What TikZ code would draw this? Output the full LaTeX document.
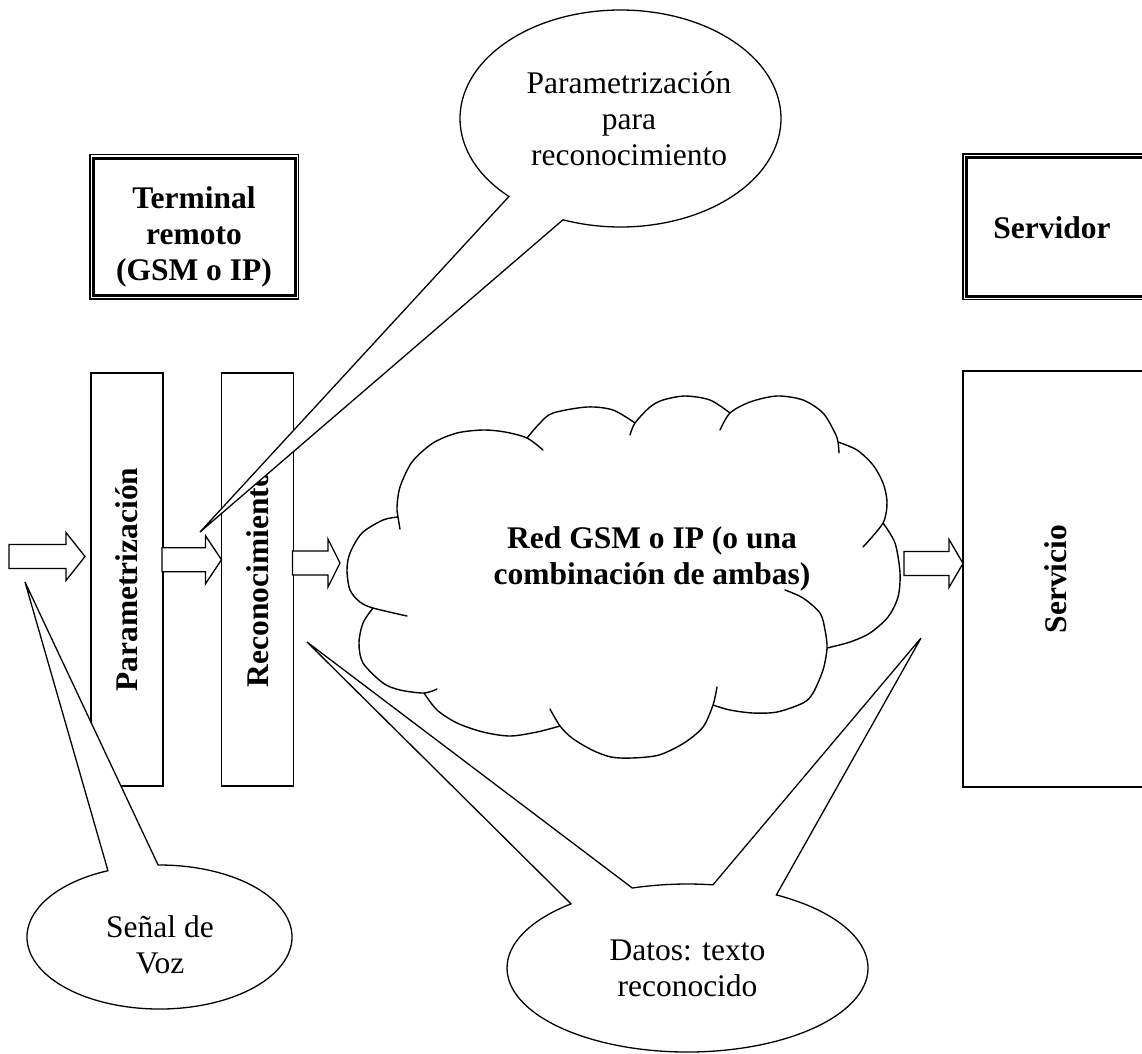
\documentclass[tikz,border=0pt]{standalone}
\usepackage{fontspec}
\setmainfont{Liberation Serif}
\usetikzlibrary{calc}

% hollow block arrow along a horizontal centre line: #1 start, #2 tip, #3 head length
\newcommand{\blockarrow}[3]{%
  \draw[barrow] ($(#1)+(0,-12)$) -- ($(#2)+(-#3,-12)$) -- ($(#2)+(-#3,-24)$)
    -- (#2) -- ($(#2)+(-#3,24)$) -- ($(#2)+(-#3,12)$) -- ($(#1)+(0,12)$) -- cycle;}

\begin{document}
\begin{tikzpicture}[x=1pt, y=-1pt,
  every node/.style={inner sep=0pt, outer sep=0pt},
  txt/.style={font=\fontsize{31.5}{36}\selectfont, align=center},
  btxt/.style={font=\fontsize{31.5}{36}\selectfont\bfseries, align=center},
  stagebox/.style={draw, line width=1.5pt, minimum width=72pt, minimum height=413pt},
  titlebox/.style={draw, line width=1.1pt},
  innerrule/.style={line width=3pt},
  barrow/.style={draw, fill=white, line width=1.3pt, line join=miter},
  cloudline/.style={line width=1.4pt, line cap=round, line join=round},
  callout/.style={draw, fill=white, line width=1.3pt, line join=miter}
]
\path[use as bounding box] (0,0) rectangle (1142,1053);
\clip (0,0) rectangle (1142,1053);

% ---- title boxes (thin outer rule, thick inner rule)
\node[titlebox, minimum width=208.8pt, minimum height=144.5pt] (term) at (194.4,226.75) {};
\draw[innerrule] ($(term.north west)+(3.5,3.5)$) rectangle ($(term.south east)+(-3.5,-3.5)$);
\node[btxt] (termlbl) at (194,237) {Terminal\\remoto\\(GSM o IP)};

\node[titlebox, minimum width=194pt, minimum height=145.5pt] (serv) at (1060,226.75) {};
\draw[innerrule] ($(serv.north west)+(3.5,3.5)$) rectangle ($(serv.south east)+(-3.5,-3.5)$);
\node[btxt] (servlbl) at (1052,227.7) {Servidor};

% ---- processing stages
\node[stagebox] (par) at (127,579.5) {};
\node[btxt, rotate=90] (parlbl) at (par.center) {Parametrización};
\node[stagebox] (rec) at (257.5,579.5) {};
\node[btxt, rotate=90] (reclbl) at (rec.center) {Reconocimiento};
\node[draw, line width=2pt, minimum width=187pt, minimum height=416pt] (svc) at (1056.5,579) {};
\node[btxt, rotate=90] (svclbl) at (1056,579) {Servicio};

% ---- block arrows
\coordinate (a1s) at (9,556.5);
\coordinate (a1e) at ($(par.west)+(-6,-23)$);
\blockarrow{a1s}{a1e}{19}
\coordinate (a2s) at ($(par.east)+(-1,-19.8)$);
\coordinate (a2e) at ($(rec.west)+(0,-19.8)$);
\blockarrow{a2s}{a2e}{16}
\coordinate (a3s) at ($(rec.east)+(-1,-16.5)$);
\coordinate (a3e) at (340,563);
\blockarrow{a3s}{a3e}{12}
\coordinate (a4s) at (904,563.4);
\coordinate (a4e) at ($(svc.west)+(0,-15.6)$);
\blockarrow{a4s}{a4e}{14}

% ---- network cloud (lobes with their inner tick arcs)
\draw[cloudline]
  plot[smooth] coordinates {(543,450) (527,438) (505,432) (483,430) (457,433) (433,443) (412,462) (400,487) (397,507) (398,517) (400,529)}
  plot[smooth] coordinates {(527,438) (540,423) (553,413) (587,407) (613,410) (635,423)}
  plot[smooth] coordinates {(630,435) (635,423) (650,407) (663,400) (685,396) (710,400) (730,413)}
  plot[smooth] coordinates {(720,430) (730,413) (750,402) (777,396) (803,400) (823,413) (835,433) (838,442) (839,453)}
  plot[smooth] coordinates {(838,442) (857,450) (873,465) (883,483) (887,502) (883,523) (863,547)}
  plot[smooth] coordinates {(883,523) (895,543) (900,573) (898,597) (888,617) (870,633) (850,642) (827,648)}
  plot[smooth] coordinates {(785,590) (803,598) (820,613) (825,630) (827,648) (823,670) (813,693) (803,703) (777,712) (753,713) (730,710) (713,705)}
  plot[smooth] coordinates {(717,687) (713,705) (703,727) (684,743) (659,755) (632,758) (611,757) (592,750) (572,738) (560,726) (550,709)}
  plot[smooth] coordinates {(560,726) (537,732) (510,736) (483,732) (457,723) (437,710) (424,693)}
  plot[smooth] coordinates {(437,689) (424,693) (400,690) (383,683) (363,663) (359,643) (363,623) (373,608)}
  plot[smooth] coordinates {(407,616) (373,608) (360,602) (350,590) (347,570) (350,553) (362,533) (383,520) (398,517)};
\node[btxt] (net) at (652,558.8) {Red GSM o IP (o una\\combinación de ambas)};

% ---- callouts
\coordinate (pc) at (620.5,118.5);
\coordinate (ptip) at (200,532);
\draw[callout] (ptip) -- ([shift={(pc)}]134.05:160.5 and 108.5)
  arc[start angle=134.05, end angle=471, x radius=160.5, y radius=108.5] -- cycle;
\node[txt] (plbl) at (629,118.3) {Parametrización\\para\\reconocimiento};

\coordinate (sc) at (159.5,937);
\coordinate (stip) at (25,582);
\draw[callout] (stip) -- ([shift={(sc)}]247.1:132.5 and 72)
  arc[start angle=247.1, end angle=-90.6, x radius=132.5, y radius=72] -- cycle;
\node[txt] (slbl) at (160,944.3) {Señal de\\Voz};

\coordinate (dc) at (687.5,968);
\coordinate (dtip1) at (307,642);
\coordinate (dtip2) at (921,638);
\draw[callout] ([shift={(dc)}]252.2:180.5 and 84)
  arc[start angle=252.2, end angle=278.1, x radius=180.5, y radius=84] -- (dtip2)
  -- ([shift={(dc)}]299.5:180.5 and 84)
  arc[start angle=299.5, end angle=589.8, x radius=180.5, y radius=84] -- (dtip1) -- cycle;
\node[txt] (dlbl) at (687.5,968) {Datos: texto\\reconocido};
\end{tikzpicture}
\end{document}
